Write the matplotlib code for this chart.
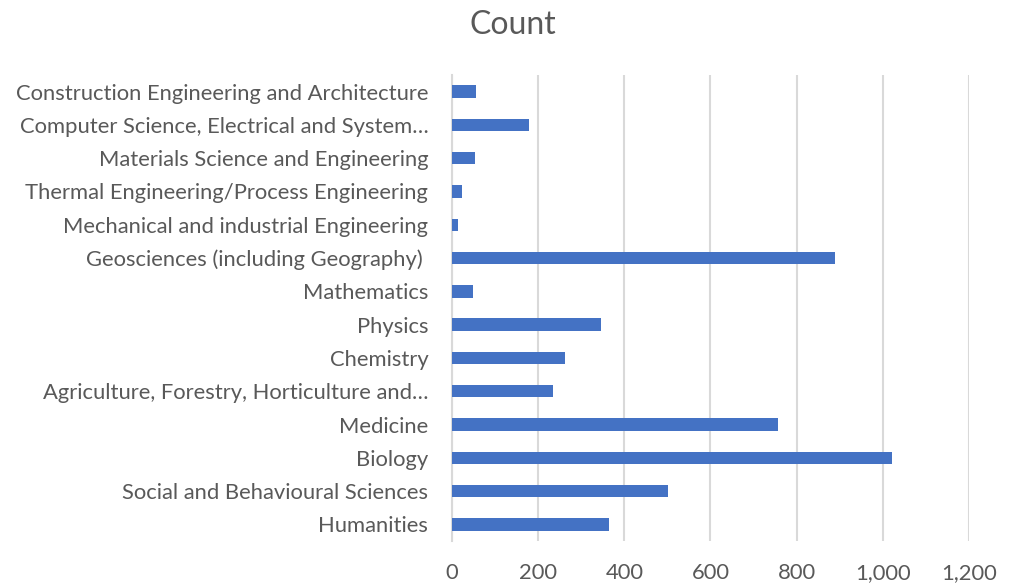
import matplotlib
matplotlib.use("Agg")
import matplotlib.pyplot as plt
from matplotlib.ticker import FuncFormatter, MultipleLocator

categories = [
    "Construction Engineering and Architecture",
    "Computer Science, Electrical and System…",
    "Materials Science and Engineering",
    "Thermal Engineering/Process Engineering",
    "Mechanical and industrial Engineering",
    "Geosciences (including Geography) ",
    "Mathematics",
    "Physics",
    "Chemistry",
    "Agriculture, Forestry, Horticulture and…",
    "Medicine",
    "Biology",
    "Social and Behavioural Sciences",
    "Humanities",
]
counts = [56, 179, 54, 23, 13, 888, 49, 346, 263, 234, 756, 1021, 501, 364]
title = "Count"

plt.rcParams['font.family'] = ['Lato', 'DejaVu Sans']
fig = plt.figure(figsize=(10.12, 5.85), dpi=100)
ax = fig.add_axes([0.4466, 0.0752, 0.5109, 0.7966])

n = len(categories)
ypos = list(range(n))[::-1]
ax.barh(ypos, counts, height=0.37, color="#4472C4", zorder=3)
ax.set_ylim(-0.5, n - 0.5)
ax.set_xlim(0, 1200)
ax.xaxis.set_major_locator(MultipleLocator(200))
ax.xaxis.set_major_formatter(FuncFormatter(lambda v, p: f"{int(v):,}"))
ax.set_yticks(ypos)
ax.set_yticklabels(categories)
ax.grid(axis="x", color="#d9d9d9", linewidth=1.5, zorder=0)
for s in ["top", "right", "bottom"]:
    ax.spines[s].set_visible(False)
ax.spines["left"].set_color("#d9d9d9")
ax.spines["left"].set_linewidth(1.5)
ax.tick_params(axis="both", length=0, labelcolor="#595959", labelsize=15.8)
ax.tick_params(axis="x", pad=16)
ax.tick_params(axis="y", pad=17)
fig.text(0.507, 0.958, title, ha="center", va="center", fontsize=23, color="#595959")
fig.savefig("out.png", dpi=100)
